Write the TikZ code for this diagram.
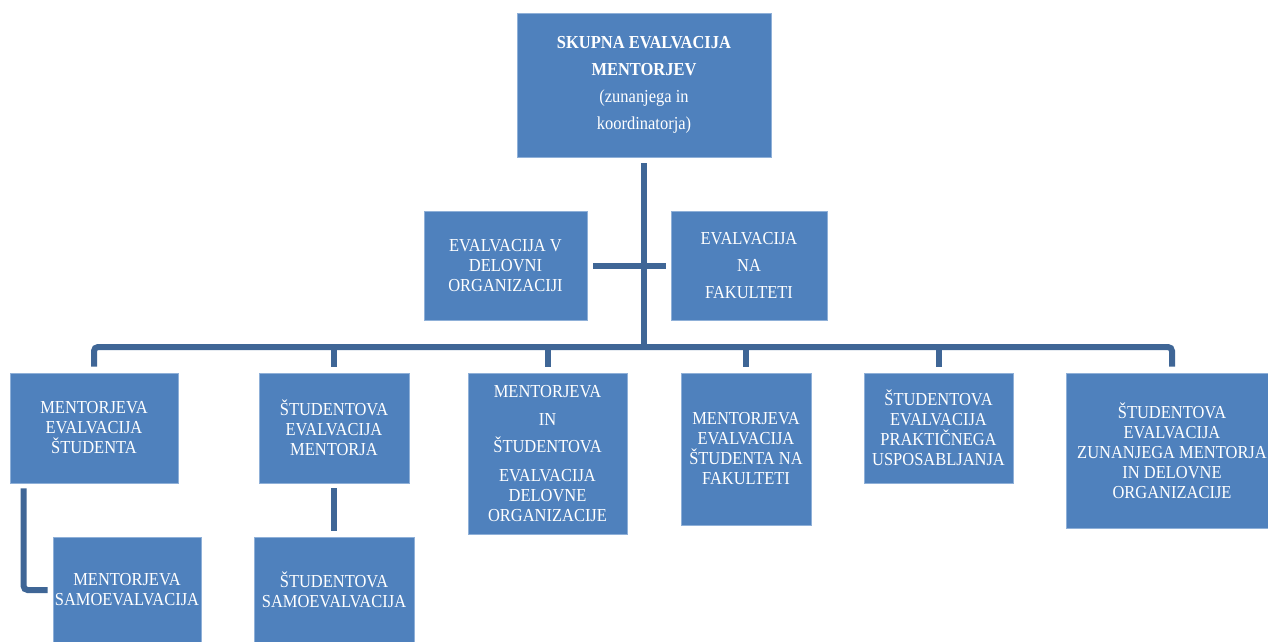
\documentclass[tikz,border=0pt]{standalone}
\usepackage{fontspec}
\setmainfont[FakeStretch=0.9]{Liberation Serif}
\definecolor{boxblue}{HTML}{4F81BD}
\definecolor{boxedge}{HTML}{8FB0D8}
\definecolor{linkblue}{HTML}{3F6696}
\begin{document}
\begin{tikzpicture}[x=1pt,y=-1pt,
  box/.style={rectangle, fill=boxblue, draw=boxedge, line width=0.8pt, text=white,
    align=center, inner sep=0pt, font=\fontsize{18.3}{20}\selectfont},
  conn/.style={draw=linkblue, line width=6pt},
  bus/.style={draw=linkblue, line width=6pt, rounded corners=4pt}]
\useasboundingbox[fill=white] (0,0) rectangle (1268,641);

\node[box, minimum width=254pt, minimum height=144pt] (top) at (644,85)
  {\textbf{SKUPNA EVALVACIJA}\\[7pt]\textbf{MENTORJEV}\\[7pt](zunanjega in\\[7pt]koordinatorja)};

\node[box, minimum width=163pt, minimum height=109pt] (ml) at (505.5,265.5)
  {EVALVACIJA V\\DELOVNI\\ORGANIZACIJI};
\node[box, minimum width=156pt, minimum height=109pt] (mr) at (749,265.5)
  {EVALVACIJA\\[7pt]NA\\[7pt]FAKULTETI};

\node[box, minimum width=168pt, minimum height=110pt] (b1) at (94,428)
  {MENTORJEVA\\EVALVACIJA\\ŠTUDENTA};
\node[box, minimum width=150pt, minimum height=110pt] (b2) at (334,428)
  {ŠTUDENTOVA\\EVALVACIJA\\MENTORJA};
\node[box, minimum width=159pt, minimum height=161pt] (b3) at (547.5,453.5)
  {MENTORJEVA\\[8pt]IN\\[7pt]ŠTUDENTOVA\\[9pt]EVALVACIJA\\DELOVNE\\ORGANIZACIJE};
\node[box, minimum width=130pt, minimum height=152pt] (b4) at (746,449)
  {MENTORJEVA\\EVALVACIJA\\ŠTUDENTA NA\\FAKULTETI};
\node[box, minimum width=149pt, minimum height=110pt] (b5) at (938.5,428)
  {ŠTUDENTOVA\\EVALVACIJA\\PRAKTIČNEGA\\USPOSABLJANJA};
\node[box, minimum width=212pt, minimum height=155pt] (b6) at (1172,450.5)
  {ŠTUDENTOVA\\EVALVACIJA\\ZUNANJEGA MENTORJA\\IN DELOVNE\\ORGANIZACIJE};

\node[box, minimum width=148pt, minimum height=106pt] (b7) at (127,590)
  {MENTORJEVA\\SAMOEVALVACIJA};
\node[box, minimum width=160pt, minimum height=106pt] (b8) at (334,590)
  {ŠTUDENTOVA\\SAMOEVALVACIJA};

\coordinate (hub) at (644,347);

% trunk
\draw[conn] ([yshift=-6pt]top.south) -- (hub);
% middle cross bar
\draw[conn] ([xshift=6pt]ml.east) -- ([xshift=-5pt]mr.west);
% bus with end drops
\draw[bus] ([yshift=6pt]b1.north) |- (hub) -| ([yshift=6pt]b6.north);
% inner drops
\draw[conn] ([yshift=6pt]b2.north) -- (b2.north |- hub);
\draw[conn] ([yshift=6pt]b3.north) -- (b3.north |- hub);
\draw[conn] ([yshift=6pt]b4.north) -- (b4.north |- hub);
\draw[conn] ([yshift=6pt]b5.north) -- (b5.north |- hub);
% sub connectors
\draw[bus] ([xshift=14pt,yshift=-5pt]b1.south west) |- ([xshift=-5pt]b7.west);
\draw[conn] ([yshift=-5pt]b2.south) -- ([yshift=6pt]b8.north);
\end{tikzpicture}
\end{document}
